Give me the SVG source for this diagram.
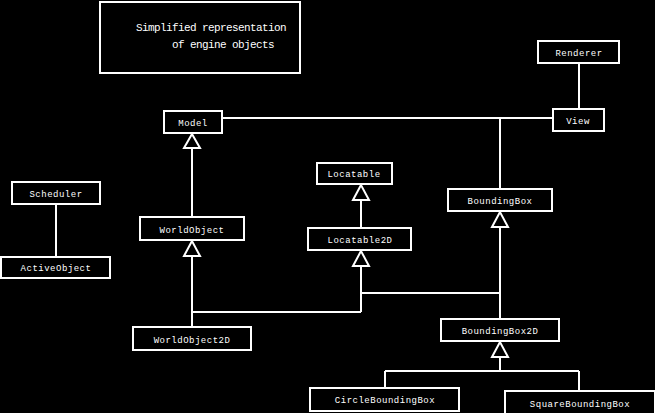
<svg xmlns="http://www.w3.org/2000/svg" width="655" height="413" viewBox="0 0 655 413">
<defs>
<style>
.box{fill:#000;stroke:#fff;stroke-width:2}
.lbl{fill:#fff;font-family:"Liberation Mono","DejaVu Sans Mono",monospace;font-size:9px;letter-spacing:0.5px;text-anchor:middle}
.ttl{fill:#fff;font-family:"Liberation Mono","DejaVu Sans Mono",monospace;font-size:11px;letter-spacing:-0.6px}
.ln{fill:none;stroke:#fff;stroke-width:2}
.tri{fill:#000;stroke:#fff;stroke-width:2;stroke-linejoin:miter}
</style>
</defs>
<rect width="655" height="413" fill="#000"/>
<g id="title">
<rect class="box" x="100" y="2" width="200" height="71"/>
<text class="ttl" x="136" y="31">Simplified representation</text>
<text class="ttl" x="172" y="48">of engine objects</text>
</g>
<g id="connectors">
<path class="ln" d="M579 63V109"/>
<path class="ln" d="M222 118H553M500 118V189"/>
<path class="ln" d="M192 148V217"/>
<path class="ln" d="M56 204V257"/>
<path class="ln" d="M361 200V228"/>
<path class="ln" d="M192 256V327M192 312H361"/>
<path class="ln" d="M361 266V312M361 293H500"/>
<path class="ln" d="M500 227V319"/>
<path class="ln" d="M500 357V371M385 371H579M385 371V388M579 371V391"/>
<polygon class="tri" points="192,134 184,148 200,148"/>
<polygon class="tri" points="361,185 353,200 369,200"/>
<polygon class="tri" points="192,241 184,256 200,256"/>
<polygon class="tri" points="361,251 353,266 369,266"/>
<polygon class="tri" points="500,212 492,227 508,227"/>
<polygon class="tri" points="500,342 492,357 508,357"/>
</g>
<g id="Renderer"><rect class="box" x="538" y="41" width="81" height="22"/><text class="lbl" x="579" y="56">Renderer</text></g>
<g id="View"><rect class="box" x="553" y="109" width="51" height="22"/><text class="lbl" x="578" y="124">View</text></g>
<g id="Model"><rect class="box" x="164" y="111" width="58" height="22"/><text class="lbl" x="193" y="126">Model</text></g>
<g id="Scheduler"><rect class="box" x="12" y="182" width="88" height="22"/><text class="lbl" x="56" y="197">Scheduler</text></g>
<g id="ActiveObject"><rect class="box" x="1" y="257" width="109" height="21"/><text class="lbl" x="56" y="271">ActiveObject</text></g>
<g id="Locatable"><rect class="box" x="317" y="163" width="75" height="21"/><text class="lbl" x="354" y="177">Locatable</text></g>
<g id="BoundingBox"><rect class="box" x="448" y="189" width="104" height="22"/><text class="lbl" x="500" y="204">BoundingBox</text></g>
<g id="WorldObject"><rect class="box" x="140" y="217" width="104" height="23"/><text class="lbl" x="192" y="233">WorldObject</text></g>
<g id="Locatable2D"><rect class="box" x="308" y="228" width="103" height="22"/><text class="lbl" x="360" y="243">Locatable2D</text></g>
<g id="WorldObject2D"><rect class="box" x="133" y="327" width="118" height="23"/><text class="lbl" x="192" y="343">WorldObject2D</text></g>
<g id="BoundingBox2D"><rect class="box" x="441" y="319" width="118" height="22"/><text class="lbl" x="500" y="334">BoundingBox2D</text></g>
<g id="CircleBoundingBox"><rect class="box" x="310" y="388" width="149" height="23"/><text class="lbl" x="385" y="403">CircleBoundingBox</text></g>
<g id="SquareBoundingBox"><rect class="box" x="505" y="391" width="150" height="24"/><text class="lbl" x="580" y="407">SquareBoundingBox</text></g>
</svg>
